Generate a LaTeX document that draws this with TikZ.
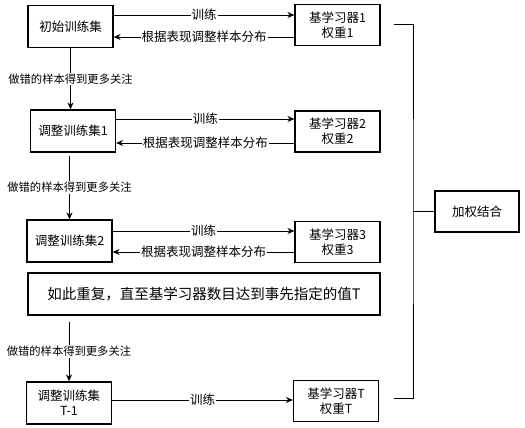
\documentclass[tikz,border=0pt]{standalone}
\usepackage{fontspec}
\setmainfont{Noto Sans CJK SC}
\usetikzlibrary{arrows.meta}

\begin{document}
\begin{tikzpicture}[x=1pt,y=-1pt,>={Stealth[length=7pt,width=6pt]},
  box/.style={draw,line width=1.2pt,minimum width=85pt,minimum height=42pt,
              align=center,inner sep=1pt,font=\fontsize{12.5}{15}\selectfont},
  lbl/.style={fill=white,inner sep=1pt,font=\fontsize{12.5}{15}\selectfont},
  note/.style={fill=white,inner sep=1pt,font=\fontsize{11.3}{13}\selectfont},
  line/.style={line width=0.9pt}]
 \useasboundingbox (0,0) rectangle (525,428);

 \node [box] (s0) at (70.5,26.5) {初始训练集};
 \node [box] (s1) at (73,131)    {调整训练集1};
 \node [box] (s2) at (69.5,241)  {调整训练集2};
 \node [box] (sT) at (69,403)    {调整训练集\\T-1};

 \node [box,minimum height=41pt] (b1) at (337.5,25)  {基学习器1\\权重1};
 \node [box,minimum height=41pt] (b2) at (337.5,131.5) {基学习器2\\权重2};
 \node [box,minimum height=41pt] (b3) at (337.5,242) {基学习器3\\权重3};
 \node [box,minimum height=41pt] (bT) at (336,401)   {基学习器T\\权重T};

 \node [box,minimum width=352pt,font=\fontsize{14.5}{17}\selectfont] (rep) at (204,294)
   {如此重复，直至基学习器数目达到事先指定的值T};
 \node [box,minimum width=84pt,minimum height=41pt] (comb) at (477,211.5) {加权结合};

 % train / reweight
 \draw [line,->] ([yshift=11.5pt]s0.east) -- ([yshift=11.5pt]s0.east -| b1.west) node [lbl,midway] {训练};
 \draw [line,->] ([yshift=-12pt]b1.west) -- ([yshift=-12pt]b1.west -| s0.east) node [lbl,midway] {根据表现调整样本分布};
 \draw [line,->] ([yshift=12pt]s1.east) -- ([yshift=12pt]s1.east -| b2.west) node [lbl,midway] {训练};
 \draw [line,->] ([yshift=-11.5pt]b2.west) -- ([yshift=-11.5pt]b2.west -| s1.east) node [lbl,midway] {根据表现调整样本分布};
 \draw [line,->] ([yshift=10pt]s2.east) -- ([yshift=10pt]s2.east -| b3.west) node [lbl,midway] {训练};
 \draw [line,->] ([yshift=-10pt]b3.west) -- ([yshift=-10pt]b3.west -| s2.east) node [lbl,midway] {根据表现调整样本分布};
 \draw [line,->] ([yshift=3pt]sT.east) -- ([yshift=3pt]sT.east -| bT.west) node [lbl,midway] {训练};

 % next training set
 \draw [line,->] (s0.south) -- (s0.south |- s1.north) node [note,midway] {做错的样本得到更多关注};
 \draw [line,->] ([yshift=-3pt]s2.north |- s1.south) -- (s2.north) node [note,midway] {做错的样本得到更多关注};
 \draw [line,->] ([yshift=-6pt]sT.north |- rep.south) -- (sT.north) node [note,midway] {做错的样本得到更多关注};

 % combine
 \coordinate (k) at (413,211.5);
 \draw [line] ([xshift=13pt,yshift=1pt]b1.east) -| (k) |- ([xshift=15pt,yshift=3pt]bT.east);
 \draw [line] (k) -- (comb.west);
\end{tikzpicture}
\end{document}
